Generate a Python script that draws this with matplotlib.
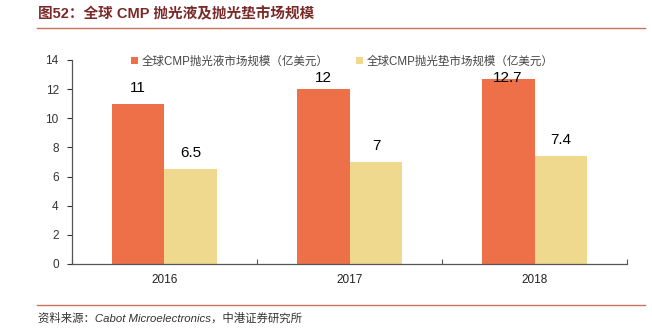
import numpy as np
import matplotlib
matplotlib.use("Agg")
import matplotlib.pyplot as plt
from matplotlib.lines import Line2D

plt.rcParams['font.family'] = ['Liberation Sans', 'Noto Sans CJK SC', 'DejaVu Sans']

years = ['2016', '2017', '2018']
slurry = [11, 12, 12.7]   # 抛光液
pad = [6.5, 7, 7.4]       # 抛光垫
series_names = ['全球CMP抛光液市场规模（亿美元）', '全球CMP抛光垫市场规模（亿美元）']

red = '#ED7049'
yellow = '#EFD98E'
line_col = '#C8735E'

fig = plt.figure(figsize=(6.52, 3.34), dpi=100)
ax = fig.add_axes([0.1104, 0.2096, 0.8513, 0.6108])

x = np.arange(len(years))
w = 0.286
b1 = ax.bar(x - w / 2, slurry, w, color=red, label=series_names[0])
b2 = ax.bar(x + w / 2, pad, w, color=yellow, label=series_names[1])

# value labels, kept inside the plot area like the original
for xs, vals in ((x - w / 2, slurry), (x + w / 2, pad)):
    for xi, v in zip(xs, vals):
        ax.text(xi, min(v + 1.1, 12.75), f'{v:g}', ha='center', va='center',
                fontsize=11, color='black')

ax.set_xlim(-0.5, 2.5)
ax.set_ylim(0, 14)
ax.set_yticks(range(0, 15, 2))
ax.tick_params(axis='y', direction='out', length=3.5, width=0.8, labelsize=8.5,
               colors='#333333', pad=6)

# ticks at category boundaries, labels at centers
ax.set_xticks([-0.5, 0.5, 1.5, 2.5])
ax.set_xticklabels([])
ax.tick_params(axis='x', which='major', direction='in', length=3.5, width=0.8,
               color='#555555')
ax.set_xticks(x, minor=True)
ax.set_xticklabels(years, minor=True)
ax.tick_params(axis='x', which='minor', length=0, labelsize=8.5,
               colors='#222222', pad=7)

for s in ['top', 'right']:
    ax.spines[s].set_visible(False)
for s in ['left', 'bottom']:
    ax.spines[s].set_color('#555555')
    ax.spines[s].set_linewidth(0.9)

leg = ax.legend(loc='upper center', bbox_to_anchor=(0.487, 1.045), ncol=2,
                frameon=False, fontsize=8.3, handlelength=0.6, handleheight=0.6,
                handletextpad=0.3, columnspacing=2.4, borderaxespad=0)
for t in leg.get_texts():
    t.set_color('#444444')

# title and source with rules
fig.text(0.058, 0.957, '图52：全球 CMP 抛光液及抛光垫市场规模', fontsize=10.5,
         fontweight='bold', color='#7B2A2A', va='center', ha='left')
fig.add_artist(Line2D([0.056, 0.99], [0.916, 0.916], color=line_col, lw=1.0))
fig.add_artist(Line2D([0.056, 0.99], [0.087, 0.087], color=line_col, lw=1.0))
fig.text(0.058, 0.048, '资料来源：Cabot Microelectronics，中港证券研究所', fontsize=8.2,
         style='italic', color='#333333', va='center', ha='left')

fig.savefig('out.png', dpi=100)
